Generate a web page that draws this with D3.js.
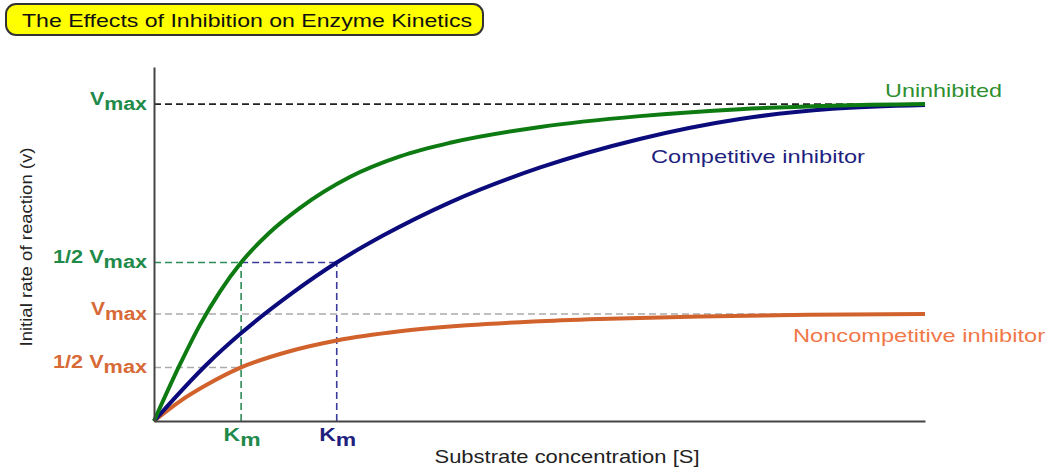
<!DOCTYPE html>
<html>
<head>
<meta charset="utf-8">
<script src="https://cdn.jsdelivr.net/npm/d3@7"></script>
<style>
  html, body { margin: 0; padding: 0; background: #fff; }
  svg { display: block; font-family: "Liberation Sans", Arial, sans-serif; }
</style>
</head>
<body>
<svg id="chart" width="1053" height="476"></svg>
<script>
// ---- Data (substrate concentration in arbitrary units, rate as fraction of Vmax) ----
const uninhibitedS = [0, 3.4, 6.0, 8.6, 11.3, 15.0, 18.9, 25.4, 31.9, 38.4, 50.1, 63.0, 76.0, 88.0, 100];
const uninhibitedV = [0, 0.18, 0.305, 0.41, 0.50, 0.595, 0.672, 0.77, 0.835, 0.878, 0.928, 0.962, 0.984, 0.995, 1.0];

const competitiveS = [0, 6.9, 11.2, 18.0, 23.7, 29.7, 38.4, 50.1, 63.0, 76.0, 88.0, 100];
const competitiveV = [0, 0.18, 0.275, 0.405, 0.50, 0.585, 0.69, 0.80, 0.89, 0.953, 0.985, 0.997];

const noncompetitiveS = [0, 3.4, 6.9, 11.3, 17.6, 23.7, 31.9, 40.6, 49.2, 57.8, 70.8, 85.0, 100];
const noncompetitiveV = [0, 0.063, 0.115, 0.169, 0.22, 0.254, 0.283, 0.302, 0.314, 0.322, 0.330, 0.335, 0.3375];

// reference levels
const vmax = 1.0;
const halfVmax = 0.5;
const ncVmax = 0.3375;
const ncHalfVmax = 0.169;
const kmUninhibited = 11.3;
const kmCompetitive = 23.7;

const seriesNames = ["Uninhibited", "Competitive inhibitor", "Noncompetitive inhibitor"];
const titleText = "The Effects of Inhibition on Enzyme Kinetics";
const xTitle = "Substrate concentration [S]";
const yTitle = "Initial rate of reaction (v)";

// ---- Layout ----
const svg = d3.select("#chart");
const x = d3.scaleLinear().domain([0, 100]).range([154, 925]);
const y = d3.scaleLinear().domain([0, 1.117]).range([421, 67]);

const C = {
  green: "#0d7a12", greenLbl: "#1f8a4a", greenSer: "#2f8f2f", greenDash: "#2e8b57",
  navy: "#0b0b7c", navyLbl: "#1f1f80", navyDash: "#3a3a9c",
  orange: "#d2622c", orangeLbl: "#d86a38", orangeSer: "#f07848",
  gray: "#aaaaaa", black: "#222"
};

// Title box
svg.append("rect").attr("x", 6).attr("y", 4).attr("width", 477).attr("height", 31)
  .attr("rx", 10).attr("ry", 10)
  .attr("fill", "#ffff00").attr("stroke", "#333").attr("stroke-width", 2);
svg.append("text").attr("x", 22).attr("y", 26.5)
  .attr("font-size", 19).attr("fill", "#111")
  .attr("textLength", 450).attr("lengthAdjust", "spacingAndGlyphs")
  .text(titleText);

// ---- Dashed guide lines ----
const g = svg.append("g");
function hdash(v, s0, s1, color, dash) {
  g.append("line").attr("x1", x(s0)).attr("x2", x(s1)).attr("y1", y(v)).attr("y2", y(v))
    .attr("stroke", color).attr("stroke-width", 1.6).attr("stroke-dasharray", dash);
}
function vdash(s, v0, v1, color, dash) {
  g.append("line").attr("x1", x(s)).attr("x2", x(s)).attr("y1", y(v0)).attr("y2", y(v1))
    .attr("stroke", color).attr("stroke-width", 1.6).attr("stroke-dasharray", dash);
}
hdash(vmax, 0, 100, C.black, "7,4");
hdash(ncVmax, 0, 100, C.gray, "7,4");
hdash(ncHalfVmax, 0, kmUninhibited, C.gray, "7,4");
hdash(halfVmax, 0, kmUninhibited, C.greenDash, "7,4");
hdash(halfVmax, kmUninhibited, kmCompetitive, C.navyDash, "7,4");
vdash(kmUninhibited, 0, halfVmax, C.greenDash, "7,4");
vdash(kmCompetitive, 0, halfVmax, C.navyDash, "7,4");

// ---- Curves ----
const line = d3.line().x(d => x(d[0])).y(d => y(d[1])).curve(d3.curveMonotoneX);
const curves = [
  { s: noncompetitiveS, v: noncompetitiveV, color: C.orange },
  { s: competitiveS, v: competitiveV, color: C.navy },
  { s: uninhibitedS, v: uninhibitedV, color: C.green }
];
curves.forEach(c => {
  svg.append("path").datum(c.s.map((s, i) => [s, c.v[i]]))
    .attr("d", line).attr("fill", "none")
    .attr("stroke", c.color).attr("stroke-width", 4).attr("stroke-linecap", "butt");
});

// ---- Axes ----
svg.append("g").attr("transform", `translate(${x(0)},0)`)
  .call(d3.axisLeft(y).tickValues([]).tickSizeOuter(0))
  .call(a => a.select(".domain").attr("stroke", "#444").attr("stroke-width", 2));
svg.append("g").attr("transform", `translate(0,${y(0)})`)
  .call(d3.axisBottom(x).tickValues([]).tickSizeOuter(0))
  .call(a => a.select(".domain").attr("stroke", "#444").attr("stroke-width", 2));

// ---- Y labels (Vmax etc.) ----
function vLabel(v, prefix, color, len) {
  const t = svg.append("text").attr("x", 147).attr("y", y(v) + 0.5)
    .attr("text-anchor", "end").attr("font-weight", "bold").attr("fill", color)
    .attr("font-size", 18);
  t.append("tspan").text(prefix + "V");
  t.append("tspan").attr("dy", 5).text("max");
  t.attr("textLength", len).attr("lengthAdjust", "spacingAndGlyphs");
}
vLabel(vmax, "", C.greenLbl, 57);
vLabel(halfVmax, "1/2 ", C.greenLbl, 94);
vLabel(ncVmax, "", C.orangeLbl, 56);
vLabel(ncHalfVmax, "1/2 ", C.orangeLbl, 94);

// ---- Km labels ----
function kmLabel(s, color) {
  const t = svg.append("text").attr("x", x(s) + 1).attr("y", 441)
    .attr("text-anchor", "middle").attr("font-weight", "bold").attr("fill", color)
    .attr("font-size", 18);
  t.append("tspan").text("K");
  t.append("tspan").attr("dy", 5).text("m");
  t.attr("textLength", 37).attr("lengthAdjust", "spacingAndGlyphs");
}
kmLabel(kmUninhibited, C.greenLbl);
kmLabel(kmCompetitive, C.navyLbl);

// ---- Series labels ----
svg.append("text").attr("x", 885).attr("y", 97).attr("font-size", 19).attr("fill", C.greenSer)
  .attr("textLength", 117).attr("lengthAdjust", "spacingAndGlyphs").text(seriesNames[0]);
svg.append("text").attr("x", 651).attr("y", 163).attr("font-size", 19).attr("fill", C.navyLbl)
  .attr("textLength", 214).attr("lengthAdjust", "spacingAndGlyphs").text(seriesNames[1]);
svg.append("text").attr("x", 793).attr("y", 342).attr("font-size", 19).attr("fill", C.orangeSer)
  .attr("textLength", 252).attr("lengthAdjust", "spacingAndGlyphs").text(seriesNames[2]);

// ---- Axis titles ----
svg.append("text").attr("x", 567).attr("y", 463).attr("text-anchor", "middle")
  .attr("font-size", 19).attr("fill", "#222")
  .attr("textLength", 265).attr("lengthAdjust", "spacingAndGlyphs").text(xTitle);
svg.append("text").attr("transform", "translate(32,247) rotate(-90)")
  .attr("text-anchor", "middle").attr("font-size", 17).attr("fill", "#222")
  .attr("textLength", 199).attr("lengthAdjust", "spacingAndGlyphs").text(yTitle);
</script>
</body>
</html>
